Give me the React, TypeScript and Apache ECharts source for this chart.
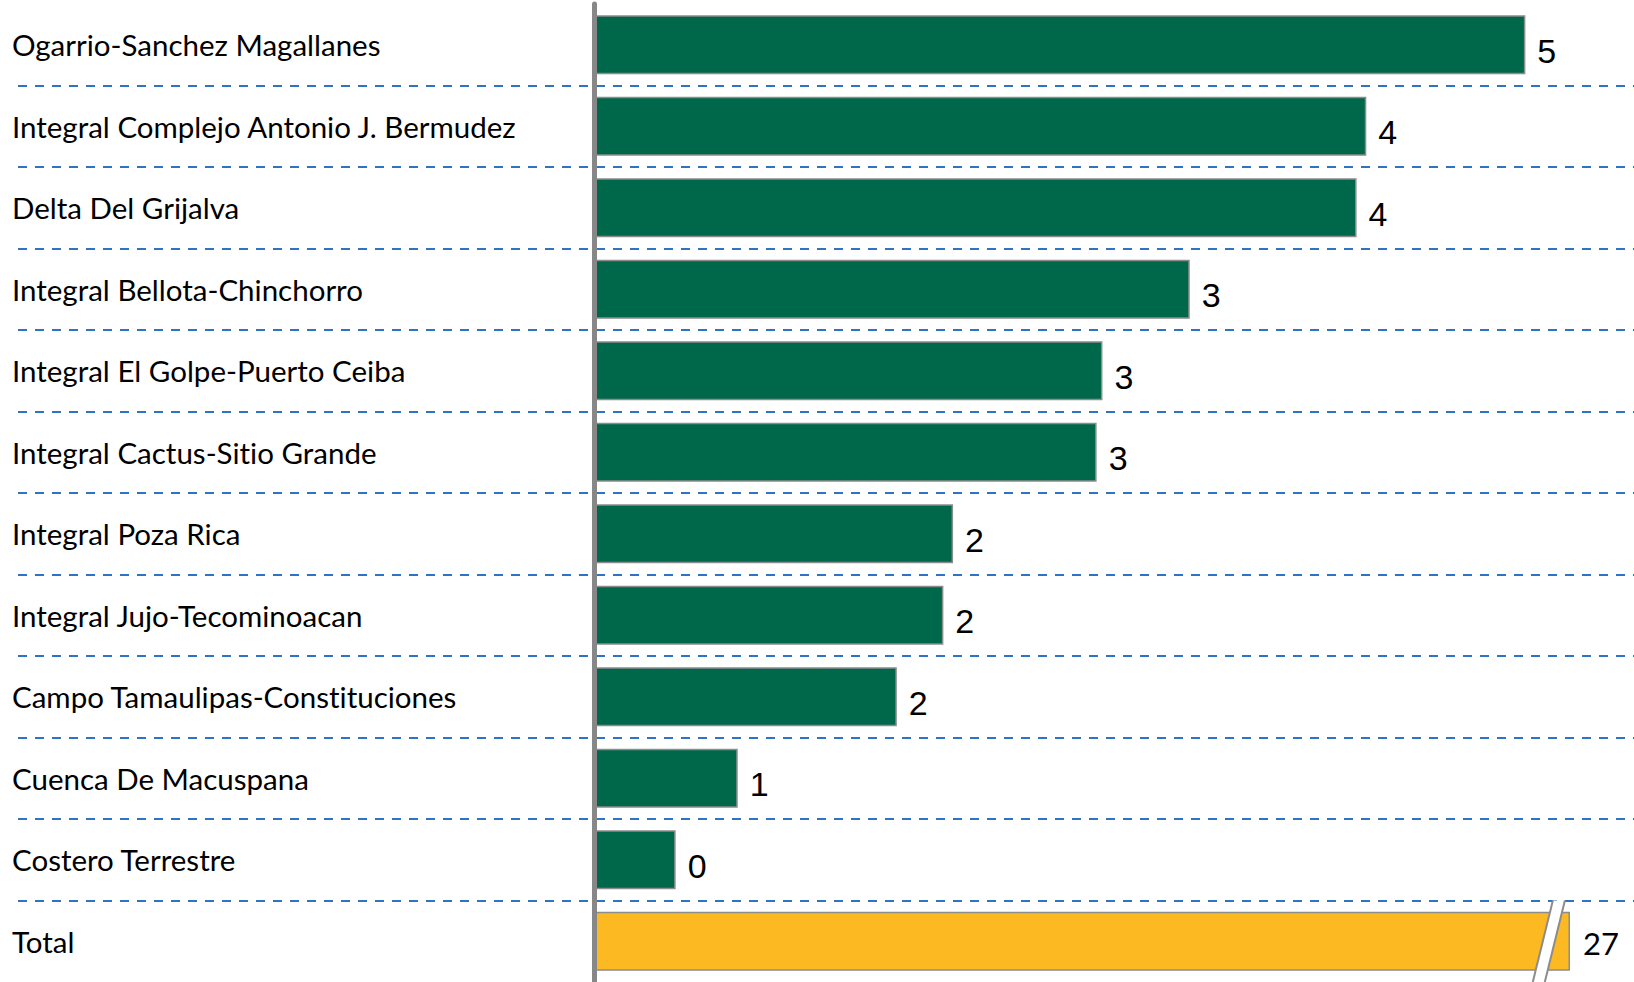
import React, { useEffect, useRef } from "react";
import * as echarts from "echarts";

const CATEGORIES = [
  "Ogarrio-Sanchez Magallanes",
  "Integral Complejo Antonio J. Bermudez",
  "Delta Del Grijalva",
  "Integral Bellota-Chinchorro",
  "Integral El Golpe-Puerto Ceiba",
  "Integral Cactus-Sitio Grande",
  "Integral Poza Rica",
  "Integral Jujo-Tecominoacan",
  "Campo Tamaulipas-Constituciones",
  "Cuenca De Macuspana",
  "Costero Terrestre",
  "Total",
];
const VALUES = [4.8, 3.98, 3.93, 3.07, 2.62, 2.59, 1.85, 1.8, 1.56, 0.74, 0.42];
const TOTAL = 27.37;
const TOTAL_SHOWN = 5.03; // length drawn for the broken total bar
const BREAK_AT = 4.89;
const BREAK_GAP = 0.062;

const GREEN = "#00684A";
const AMBER = "#FDB921";
const BORDER = "#8C8C8C";

export default function App() {
  const ref = useRef<HTMLDivElement>(null);
  useEffect(() => {
    document.body.style.margin = "0";
    const chart = echarts.init(ref.current!, null, { renderer: "svg" });
    const lastIdx = CATEGORIES.length - 1;
    const barData: any[] = VALUES.map((v) => ({
      value: v,
      itemStyle: { color: GREEN },
    }));
    barData.push({
      value: TOTAL_SHOWN,
      itemStyle: { color: AMBER },
      label: {
        fontFamily: "Lato",
        fontSize: 31,
        distance: 13,
        offset: [0, 2],
      },
    });
    chart.setOption({
      animation: false,
      grid: {
        left: 18,
        right: 0,
        top: 4,
        bottom: 0,
        outerBoundsMode: "none",
        containLabel: false,
      },
      xAxis: {
        type: "value",
        min: -2.97,
        max: 5.36,
        axisLine: { show: false },
        axisTick: { show: false },
        axisLabel: { show: false },
        splitLine: { show: false },
      },
      yAxis: {
        type: "category",
        inverse: true,
        data: CATEGORIES,
        z: 3,
        axisLine: {
          show: true,
          onZero: true,
          lineStyle: { color: "#878787", width: 5 },
        },
        axisTick: { show: false },
        axisLabel: {
          align: "left",
          margin: 6,
          color: "#000",
          fontFamily: "Lato",
          fontSize: 29.5,
        },
        splitLine: {
          show: true,
          showMinLine: false,
          showMaxLine: false,
          lineStyle: {
            color: "#2F74C4",
            width: 2,
            type: [9, 8],
          },
        },
      },
      series: [
        {
          type: "bar",
          data: barData,
          barWidth: 59,
          itemStyle: { borderColor: BORDER, borderWidth: 1.5 },
          label: {
            show: true,
            position: "right",
            distance: 12,
            offset: [0, 6],
            color: "#000",
            fontFamily: "Liberation Sans",
            fontSize: 34,
            formatter: (p: any) =>
              String(Math.round(p.dataIndex === lastIdx ? TOTAL : p.value)),
          },
        },
        {
          type: "custom",
          z: 5,
          data: [[BREAK_AT, lastIdx]],
          renderItem: (params: any, api: any) => {
            const c = api.coord([api.value(0), api.value(1)]);
            const band = api.size([0, 1])[1];
            const gap = api.size([BREAK_GAP, 0])[0];
            const dx = band * 0.123;
            const top = c[1] - band / 2;
            const bot = c[1] + band / 2;
            return {
              type: "group",
              children: [
                {
                  type: "polygon",
                  shape: {
                    points: [
                      [c[0] + dx, top],
                      [c[0] + dx + gap, top],
                      [c[0] - dx + gap, bot],
                      [c[0] - dx, bot],
                    ],
                  },
                  style: { fill: "#fff" },
                },
                {
                  type: "line",
                  shape: { x1: c[0] + dx, y1: top, x2: c[0] - dx, y2: bot },
                  style: { stroke: BORDER, lineWidth: 2 },
                },
                {
                  type: "line",
                  shape: {
                    x1: c[0] + dx + gap,
                    y1: top,
                    x2: c[0] - dx + gap,
                    y2: bot,
                  },
                  style: { stroke: BORDER, lineWidth: 2 },
                },
              ],
            };
          },
        },
      ],
    });
    return () => chart.dispose();
  }, []);
  return (
    <div
      ref={ref}
      style={{
        position: "absolute",
        left: 0,
        top: 0,
        width: 1634,
        height: 982,
        fontVariantLigatures: "none",
      }}
    />
  );
}
